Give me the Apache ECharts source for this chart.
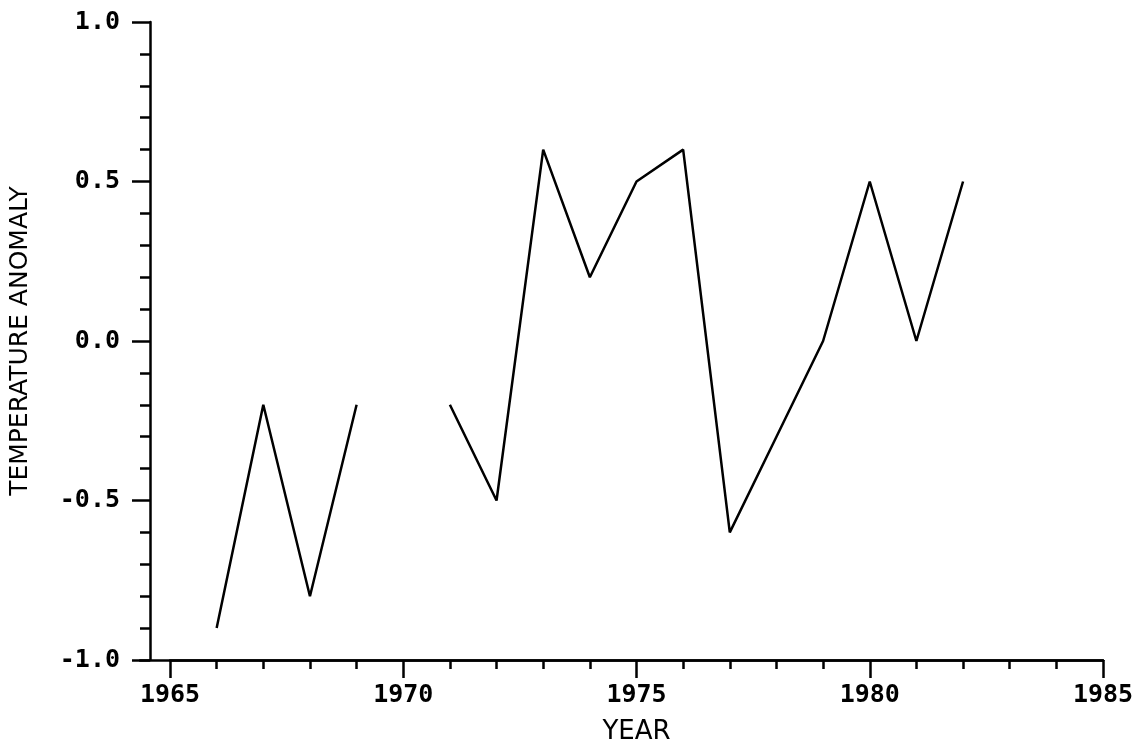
<!DOCTYPE html>
<html>
<head>
<meta charset="utf-8">
<script src="https://cdn.jsdelivr.net/npm/echarts@6/dist/echarts.min.js"></script>
<style>
  html, body { margin: 0; padding: 0; background: #fff; }
  #chart { width: 1139px; height: 751px; }
</style>
</head>
<body>
<div id="chart"></div>
<script>
// data (1970 missing -> gap in the line)
var years = [1966, 1967, 1968, 1969, 1970, 1971, 1972, 1973, 1974, 1975, 1976, 1977, 1978, 1979, 1980, 1981, 1982];
var anomaly = [-0.9, -0.2, -0.8, -0.2, null, -0.2, -0.5, 0.6, 0.2, 0.5, 0.6, -0.6, -0.3, 0.0, 0.5, 0.0, 0.5];

var xTicks = [1965, 1970, 1975, 1980, 1985];
var yTicks = [-1.0, -0.5, 0.0, 0.5, 1.0];

var ink = '#000';
var tickFont = 'DejaVu Sans Mono';
var nameFont = 'DejaVu Sans';

var points = [];
for (var i = 0; i < years.length; i++) {
    points.push([years[i], anomaly[i]]);
}

var chart = echarts.init(document.getElementById('chart'));

var option = {
    backgroundColor: '#fff',
    animation: false,
    grid: [
        { left: 168, right: 36, top: 22, bottom: 91 },
        // carries the bottom axis line back to the y axis
        { left: 140, right: 36, top: 22, bottom: 91 }
    ],
    xAxis: [
        {
            type: 'value',
            min: xTicks[0],
            max: xTicks[xTicks.length - 1],
            interval: 5,
            name: 'YEAR',
            nameLocation: 'middle',
            nameGap: 59,
            nameTextStyle: { color: ink, fontFamily: nameFont, fontSize: 26 },
            axisLine: { show: true, onZero: false, lineStyle: { color: ink, width: 2.5 } },
            axisTick: { show: true, inside: false, length: 18, lineStyle: { color: ink, width: 2.5 } },
            minorTick: { show: true, splitNumber: 5, length: 9, lineStyle: { color: ink, width: 2.5 } },
            axisLabel: {
                color: ink, fontFamily: tickFont, fontWeight: 'bold', fontSize: 25, margin: 23,
                formatter: function (v) { return String(v); }
            },
            splitLine: { show: false }
        },
        {
            type: 'value',
            gridIndex: 1,
            min: 0,
            max: 1,
            axisLine: { show: true, onZero: false, lineStyle: { color: ink, width: 2.5 } },
            axisTick: { show: false },
            axisLabel: { show: false },
            splitLine: { show: false }
        }
    ],
    yAxis: [
        {
            type: 'value',
            min: yTicks[0],
            max: yTicks[yTicks.length - 1],
            interval: 0.5,
            offset: 20,
            name: 'TEMPERATURE ANOMALY',
            nameLocation: 'middle',
            nameGap: 117,
            nameTextStyle: { color: ink, fontFamily: nameFont, fontSize: 25 },
            axisLine: { show: true, onZero: false, lineStyle: { color: ink, width: 2.5 } },
            axisTick: { show: true, inside: false, length: 18, lineStyle: { color: ink, width: 2.5 } },
            minorTick: { show: true, splitNumber: 5, length: 10, lineStyle: { color: ink, width: 2.5 } },
            axisLabel: {
                color: ink, fontFamily: tickFont, fontWeight: 'bold', fontSize: 25, margin: 30,
                formatter: function (v) { return v.toFixed(1); }
            },
            splitLine: { show: false }
        },
        {
            type: 'value',
            gridIndex: 1,
            min: 0,
            max: 1,
            show: false
        }
    ],
    series: [
        {
            name: 'Temperature anomaly',
            type: 'line',
            xAxisIndex: 0,
            yAxisIndex: 0,
            data: points,
            connectNulls: false,
            showSymbol: false,
            lineStyle: { color: ink, width: 2.5 },
            itemStyle: { color: ink }
        }
    ]
};

chart.setOption(option);
</script>
</body>
</html>
